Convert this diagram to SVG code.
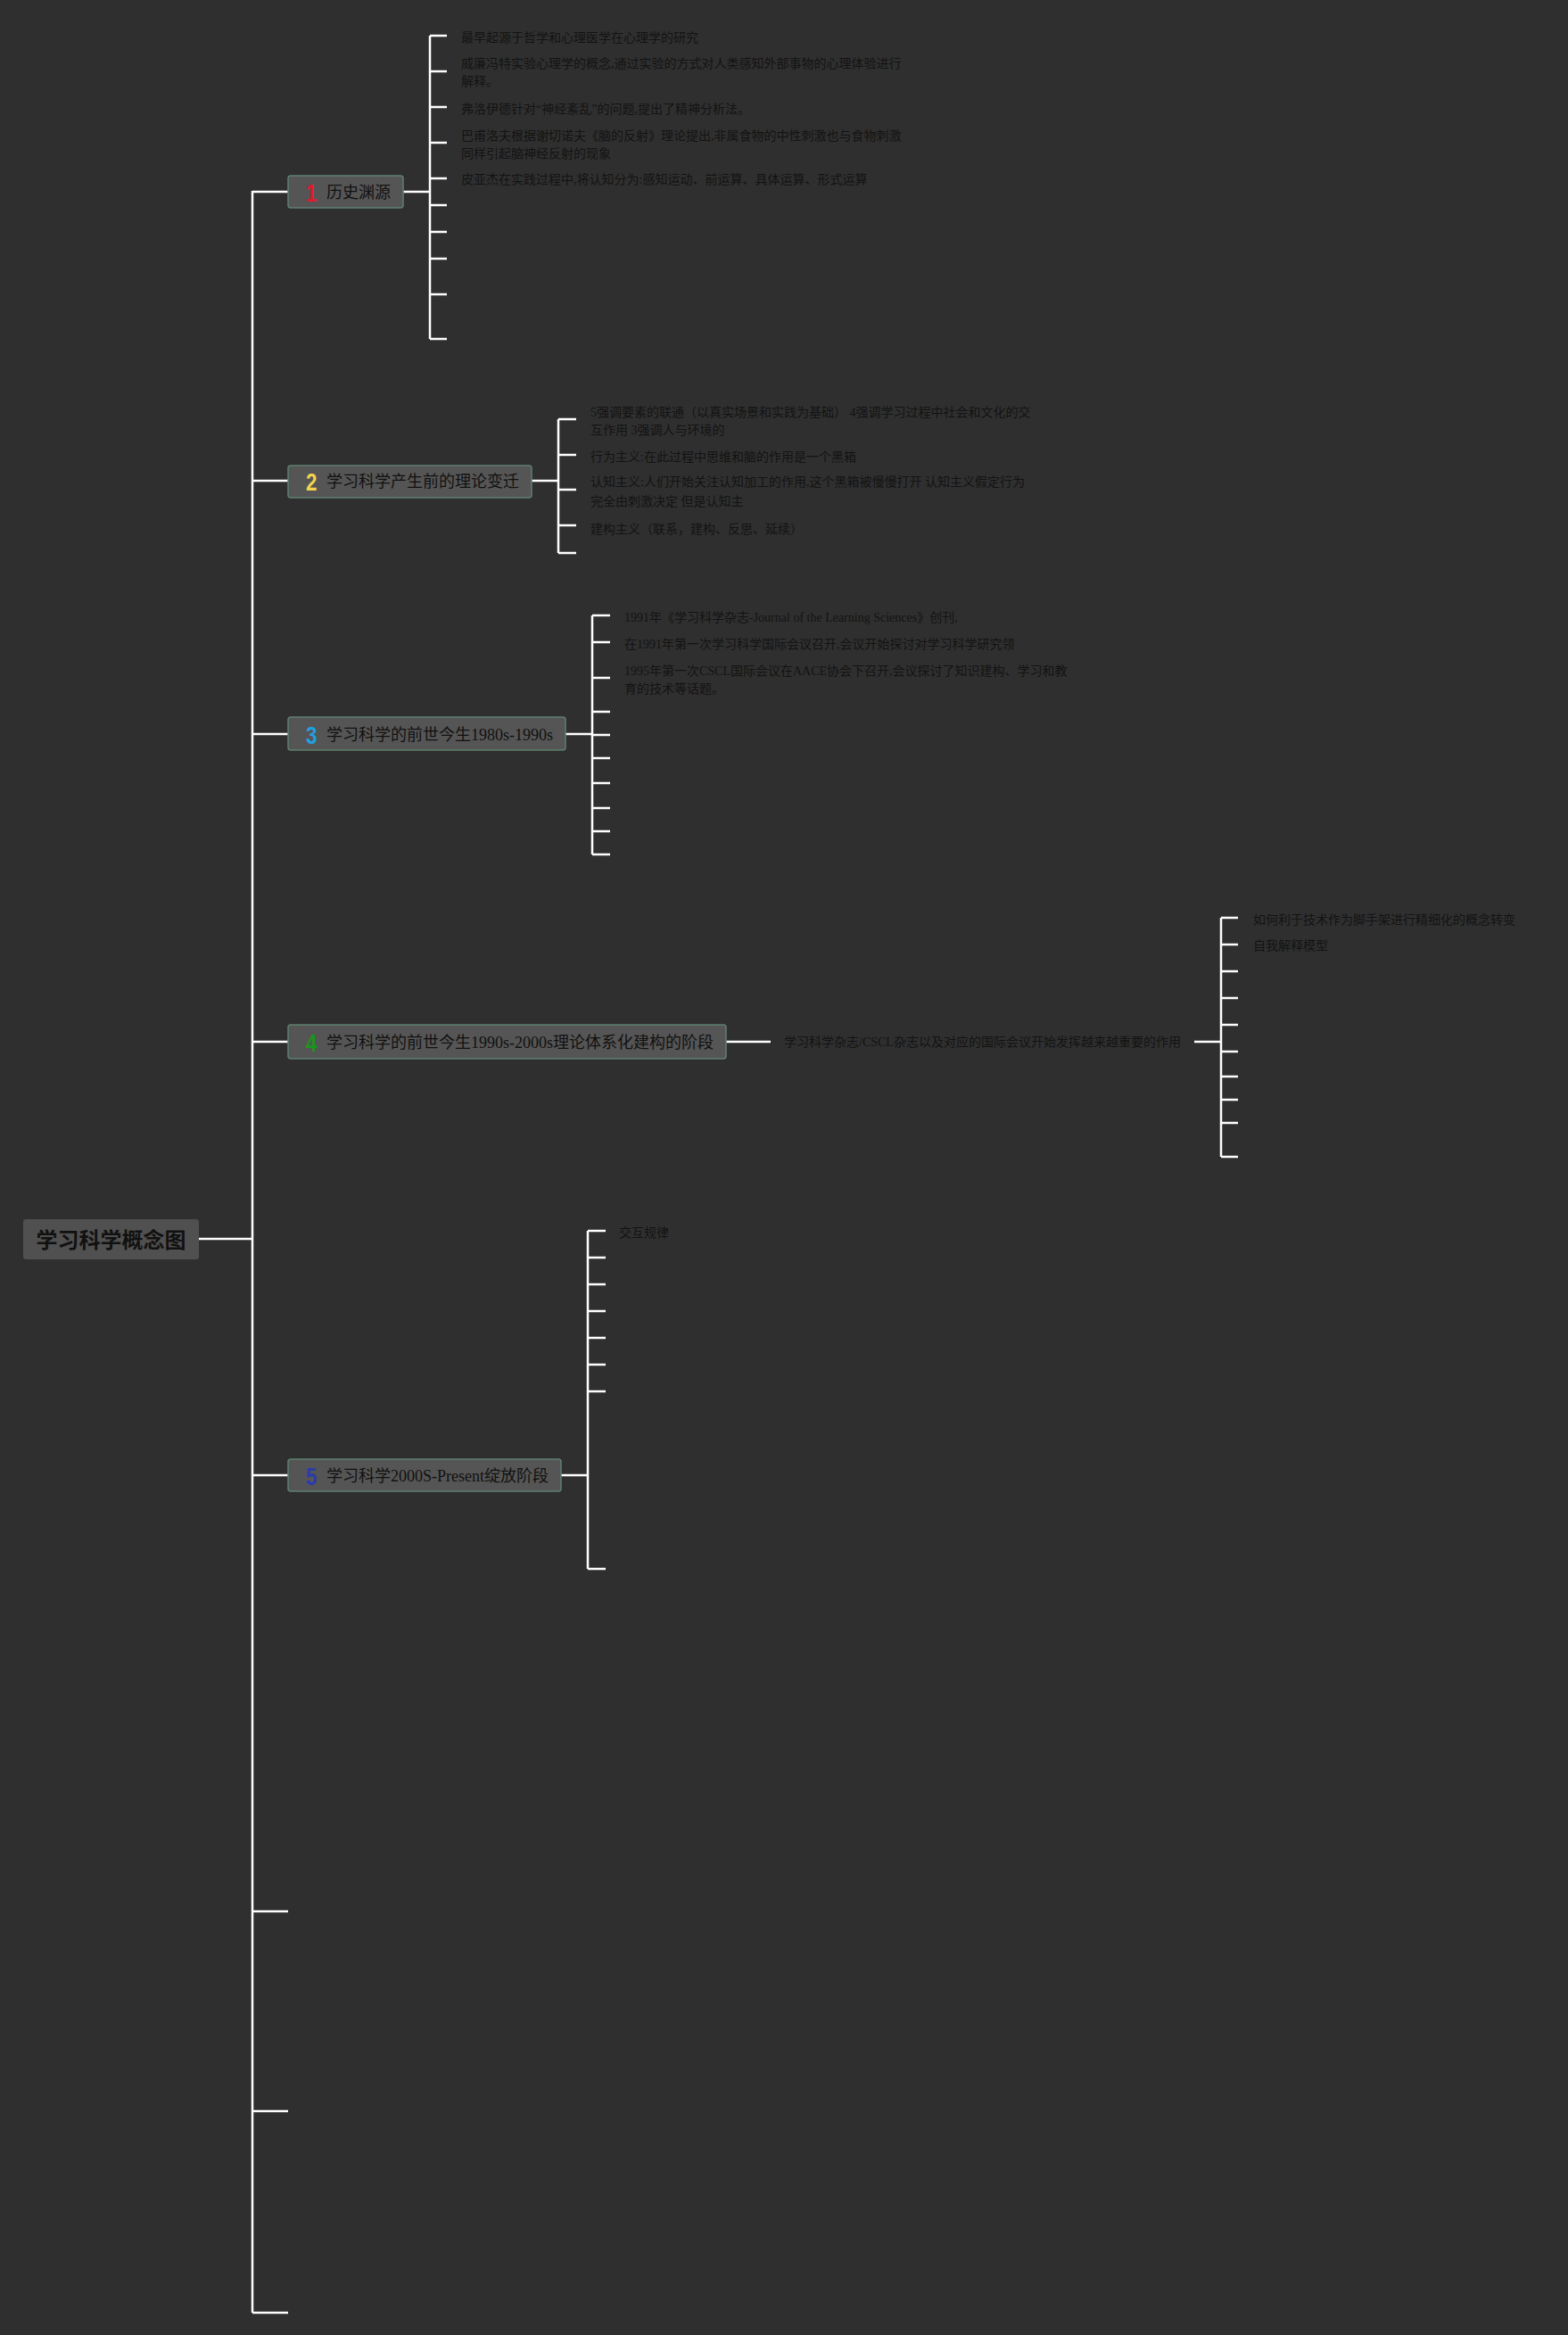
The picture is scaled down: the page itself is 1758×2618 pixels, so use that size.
<svg xmlns="http://www.w3.org/2000/svg" width="1758" height="2618" viewBox="0 0 1758 2618">
<style>
.bg{fill:#2f2f2f}
.ln{stroke:#ffffff;stroke-width:2.5;fill:none}
.box{fill:#555555;stroke:#5e8070;stroke-width:1.5}
.root{fill:#505050}
.rt{font-family:"Liberation Sans","Noto Sans CJK SC",sans-serif;font-weight:bold;font-size:24px;fill:#111111}
.nt{font-family:"Liberation Serif","Noto Sans CJK SC",serif;font-size:18px;fill:#111111}
.num{font-family:"Liberation Sans","Noto Sans CJK SC",sans-serif;font-weight:bold;font-size:28px}
.it{font-family:"Liberation Serif","Noto Sans CJK SC",serif;font-size:14px;fill:#131313}
</style>
<rect class="bg" x="0" y="0" width="1758" height="2618"/>
<g id="connectors">
<path class="ln" d="M283 214V2593M223 1389H283M283 215H323M283 539H323M283 823H323M283 1168H323M283 1654H323M283 2143H323M283 2367H323M283 2593H323"/>
<path class="ln" d="M452 215H482M482 40V380M482 40H501M482 80H501M482 120H501M482 160H501M482 200H501M482 230H501M482 260H501M482 290H501M482 330H501M482 380H501"/>
<path class="ln" d="M596 539H626M626 470V620M626 470H646M626 510H646M626 549H646M626 589H646M626 620H646"/>
<path class="ln" d="M634 823H664M664 690V958M664 690H684M664 720H684M664 760H684M664 798H684M664 824H684M664 850H684M664 878H684M664 906H684M664 932H684M664 958H684"/>
<path class="ln" d="M814 1168H864M1339 1168H1369M1369 1029V1297M1369 1029H1388M1369 1059H1388M1369 1089H1388M1369 1119H1388M1369 1149H1388M1369 1179H1388M1369 1207H1388M1369 1233H1388M1369 1259H1388M1369 1297H1388"/>
<path class="ln" d="M629 1654H659M659 1380V1759M659 1380H679M659 1410H679M659 1440H679M659 1470H679M659 1500H679M659 1530H679M659 1560H679M659 1759H679"/>
</g>
<g id="root">
<rect class="root" x="26" y="1367" width="197" height="45" rx="3"/>
<text class="rt" x="124.5" y="1390" text-anchor="middle" dominant-baseline="central">学习科学概念图</text>
</g>
<g id="n1">
<rect class="box" x="323" y="197" width="129" height="36" rx="3"/>
<text class="num" transform="translate(343 226) scale(0.8 1)" x="0" y="0" fill="#e01a30">1</text>
<text class="nt" x="366" y="216" dominant-baseline="central">历史渊源</text>
</g>
<g id="n1-items">
<text class="it" x="517" y="42" dominant-baseline="central">最早起源于哲学和心理医学在心理学的研究</text>
<text class="it" x="517" y="71" dominant-baseline="central">威廉冯特实验心理学的概念,通过实验的方式对人类感知外部事物的心理体验进行</text>
<text class="it" x="517" y="91" dominant-baseline="central">解释。</text>
<text class="it" x="517" y="122" dominant-baseline="central">弗洛伊德针对“神经紊乱”的问题,提出了精神分析法。</text>
<text class="it" x="517" y="152" dominant-baseline="central">巴甫洛夫根据谢切诺夫《脑的反射》理论提出,非属食物的中性刺激也与食物刺激</text>
<text class="it" x="517" y="172" dominant-baseline="central">同样引起脑神经反射的现象</text>
<text class="it" x="517" y="201" dominant-baseline="central">皮亚杰在实践过程中,将认知分为:感知运动、前运算、具体运算、形式运算</text>
</g>
<g id="n2">
<rect class="box" x="323" y="522" width="273" height="36" rx="3"/>
<text class="num" transform="translate(343 550) scale(0.8 1)" x="0" y="0" fill="#f2d34e">2</text>
<text class="nt" x="366" y="540" dominant-baseline="central">学习科学产生前的理论变迁</text>
</g>
<g id="n2-items">
<text class="it" x="662" y="462" dominant-baseline="central">5强调要素的联通（以真实场景和实践为基础） 4强调学习过程中社会和文化的交</text>
<text class="it" x="662" y="482" dominant-baseline="central">互作用 3强调人与环境的</text>
<text class="it" x="662" y="512" dominant-baseline="central">行为主义:在此过程中思维和脑的作用是一个黑箱</text>
<text class="it" x="662" y="540" dominant-baseline="central">认知主义:人们开始关注认知加工的作用,这个黑箱被慢慢打开 认知主义假定行为</text>
<text class="it" x="662" y="562" dominant-baseline="central">完全由刺激决定 但是认知主</text>
<text class="it" x="662" y="593" dominant-baseline="central">建构主义（联系，建构、反思、延续）</text>
</g>
<g id="n3">
<rect class="box" x="323" y="804" width="311" height="37" rx="3"/>
<text class="num" transform="translate(343 834) scale(0.8 1)" x="0" y="0" fill="#21a0e0">3</text>
<text class="nt" x="366" y="824" dominant-baseline="central">学习科学的前世今生1980s-1990s</text>
</g>
<g id="n3-items">
<text class="it" x="700" y="692" dominant-baseline="central">1991年《学习科学杂志-Journal of the Learning Sciences》创刊,</text>
<text class="it" x="700" y="722" dominant-baseline="central">在1991年第一次学习科学国际会议召开,会议开始探讨对学习科学研究领</text>
<text class="it" x="700" y="752" dominant-baseline="central">1995年第一次CSCL国际会议在AACE协会下召开,会议探讨了知识建构、学习和教</text>
<text class="it" x="700" y="772" dominant-baseline="central">育的技术等话题。</text>
</g>
<g id="n4">
<rect class="box" x="323" y="1149" width="491" height="38" rx="3"/>
<text class="num" transform="translate(343 1179) scale(0.8 1)" x="0" y="0" fill="#18961f">4</text>
<text class="nt" x="366" y="1169" dominant-baseline="central">学习科学的前世今生1990s-2000s理论体系化建构的阶段</text>
</g>
<g id="n4-mid">
<text class="it" x="879" y="1168" dominant-baseline="central">学习科学杂志/CSCL杂志以及对应的国际会议开始发挥越来越重要的作用</text>
</g>
<g id="n4-items">
<text class="it" x="1405" y="1031" dominant-baseline="central">如何利于技术作为脚手架进行精细化的概念转变</text>
<text class="it" x="1405" y="1060" dominant-baseline="central">自我解释模型</text>
</g>
<g id="n5">
<rect class="box" x="323" y="1636" width="306" height="36" rx="3"/>
<text class="num" transform="translate(343 1665) scale(0.8 1)" x="0" y="0" fill="#2b3aad">5</text>
<text class="nt" x="366" y="1655" dominant-baseline="central">学习科学2000S-Present绽放阶段</text>
</g>
<g id="n5-items">
<text class="it" x="694" y="1382" dominant-baseline="central">交互规律</text>
</g>
</svg>
